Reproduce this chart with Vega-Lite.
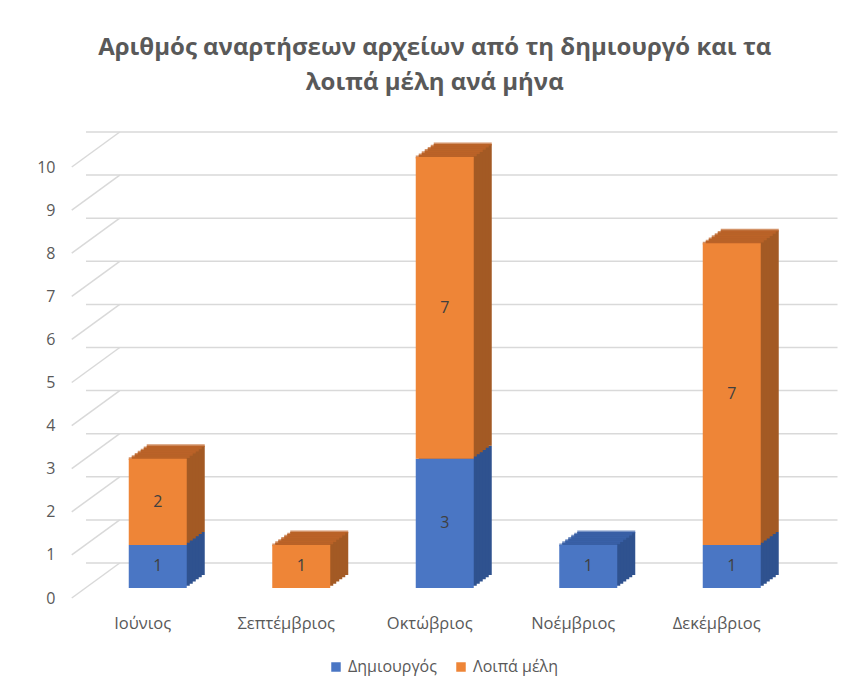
{
  "$schema": "https://vega.github.io/schema/vega-lite/v6.json",
  "width": 717.5,
  "height": 431,
  "autosize": {"type": "none"},
  "padding": {"left": 86, "top": 157, "right": 62, "bottom": 105},
  "background": "white",
  "config": {"view": {"stroke": null}, "font": "Open Sans"},
  "title": {
    "text": ["Αριθμός αναρτήσεων αρχείων από τη δημιουργό και τα", "λοιπά μέλη ανά μήνα"],
    "font": "Open Sans",
    "fontSize": 24,
    "fontWeight": "bold",
    "color": "#595959",
    "lineHeight": 35,
    "anchor": "middle",
    "dx": -10,
    "offset": 36
  },
  "datasets": {
    "posts": [
      {"month": "Ιούνιος", "series": "Δημιουργός", "value": 1},
      {"month": "Ιούνιος", "series": "Λοιπά μέλη", "value": 2},
      {"month": "Σεπτέμβριος", "series": "Δημιουργός", "value": 0},
      {"month": "Σεπτέμβριος", "series": "Λοιπά μέλη", "value": 1},
      {"month": "Οκτώβριος", "series": "Δημιουργός", "value": 3},
      {"month": "Οκτώβριος", "series": "Λοιπά μέλη", "value": 7},
      {"month": "Νοέμβριος", "series": "Δημιουργός", "value": 1},
      {"month": "Νοέμβριος", "series": "Λοιπά μέλη", "value": 0},
      {"month": "Δεκέμβριος", "series": "Δημιουργός", "value": 1},
      {"month": "Δεκέμβριος", "series": "Λοιπά μέλη", "value": 7}
    ],
    "grid": [
      {"v": 0}, {"v": 1}, {"v": 2}, {"v": 3}, {"v": 4}, {"v": 5},
      {"v": 6}, {"v": 7}, {"v": 8}, {"v": 9}, {"v": 10}
    ]
  },
  "layer": [
    {
      "data": {"name": "grid"},
      "mark": {"type": "rule", "color": "#D9D9D9", "strokeWidth": 1.5, "xOffset": 34, "x2Offset": 34, "yOffset": -25},
      "encoding": {
        "y": {"field": "v", "type": "quantitative", "scale": {"domain": [0, 10], "nice": false},
          "axis": {"title": null, "grid": false, "domain": false, "ticks": false, "values": [0,1,2,3,4,5,6,7,8,9,10], "labelPadding": 31, "labelOffset": 10, "labelFontSize": 16, "labelColor": "#595959", "labelFont": "Open Sans"}}
      }
    },
    {
      "data": {"name": "grid"},
      "mark": {"type": "rule", "color": "#D9D9D9", "strokeWidth": 1.5, "xOffset": -86, "x2Offset": -38, "yOffset": 10, "y2Offset": -25},
      "encoding": {
        "x": {"datum": "Ιούνιος", "type": "nominal",
          "axis": {"title": null, "domain": false, "ticks": false, "labelAngle": 0, "labelOffset": -15, "labelPadding": 27, "labelFontSize": 16.5, "labelColor": "#595959", "labelFont": "Open Sans"}},
        "x2": {"datum": "Ιούνιος"},
        "y": {"field": "v", "type": "quantitative"},
        "y2": {"field": "v"}
      }
    },
    {
      "data": {"name": "posts"},
      "transform": [
        {"filter": "datum.value > 0"},
        {"stack": "value", "groupby": ["month"], "sort": [{"field": "series", "order": "ascending"}], "as": ["y0", "y1"]},
        {"joinaggregate": [{"op": "max", "field": "y1", "as": "total"}], "groupby": ["month"]},
        {"calculate": "(datum.y0 + datum.y1) / 2", "as": "mid"}
      ],
      "encoding": {
        "x": {
          "field": "month",
          "type": "nominal",
          "sort": null,
          "scale": {"domain": ["Ιούνιος", "Σεπτέμβριος", "Οκτώβριος", "Νοέμβριος", "Δεκέμβριος"], "paddingInner": 0.596, "paddingOuter": 0.298},
          "axis": {"title": null, "domain": false, "ticks": false, "labelAngle": 0, "labelOffset": -15, "labelPadding": 27, "labelFontSize": 16.5, "labelColor": "#595959", "labelFont": "Open Sans"}
        }
      },
      "layer": [
        {"mark": {"type": "bar", "width": 58, "xOffset": 18, "yOffset": -13, "y2Offset": -13},
         "encoding": {"y": {"field": "y1", "type": "quantitative"}, "y2": {"field": "y0"},
           "color": {"condition": {"test": "datum.series === 'Δημιουργός'", "value": "#2F528F"}, "value": "#A35A24"}}},
        {"mark": {"type": "bar", "width": 58, "xOffset": 15, "yOffset": -10.83, "y2Offset": -10.83},
         "encoding": {"y": {"field": "y1", "type": "quantitative"}, "y2": {"field": "y0"},
           "color": {"condition": {"test": "datum.series === 'Δημιουργός'", "value": "#2F528F"}, "value": "#A35A24"}}},
        {"mark": {"type": "bar", "width": 58, "xOffset": 12, "yOffset": -8.67, "y2Offset": -8.67},
         "encoding": {"y": {"field": "y1", "type": "quantitative"}, "y2": {"field": "y0"},
           "color": {"condition": {"test": "datum.series === 'Δημιουργός'", "value": "#2F528F"}, "value": "#A35A24"}}},
        {"mark": {"type": "bar", "width": 58, "xOffset": 9, "yOffset": -6.5, "y2Offset": -6.5},
         "encoding": {"y": {"field": "y1", "type": "quantitative"}, "y2": {"field": "y0"},
           "color": {"condition": {"test": "datum.series === 'Δημιουργός'", "value": "#2F528F"}, "value": "#A35A24"}}},
        {"mark": {"type": "bar", "width": 58, "xOffset": 6, "yOffset": -4.33, "y2Offset": -4.33},
         "encoding": {"y": {"field": "y1", "type": "quantitative"}, "y2": {"field": "y0"},
           "color": {"condition": {"test": "datum.series === 'Δημιουργός'", "value": "#2F528F"}, "value": "#A35A24"}}},
        {"mark": {"type": "bar", "width": 58, "xOffset": 3, "yOffset": -2.17, "y2Offset": -2.17},
         "encoding": {"y": {"field": "y1", "type": "quantitative"}, "y2": {"field": "y0"},
           "color": {"condition": {"test": "datum.series === 'Δημιουργός'", "value": "#2F528F"}, "value": "#A35A24"}}},
        {"transform": [{"filter": "datum.y1 === datum.total"}],
         "mark": {"type": "tick", "orient": "horizontal", "size": 58, "thickness": 2.8, "xOffset": 18, "yOffset": -13},
         "encoding": {"y": {"field": "total", "type": "quantitative"},
           "color": {"condition": {"test": "datum.series === 'Δημιουργός'", "value": "#3C64AC"}, "value": "#C0652A"}}},
        {"transform": [{"filter": "datum.y1 === datum.total"}],
         "mark": {"type": "tick", "orient": "horizontal", "size": 58, "thickness": 2.8, "xOffset": 15, "yOffset": -10.83},
         "encoding": {"y": {"field": "total", "type": "quantitative"},
           "color": {"condition": {"test": "datum.series === 'Δημιουργός'", "value": "#3C64AC"}, "value": "#C0652A"}}},
        {"transform": [{"filter": "datum.y1 === datum.total"}],
         "mark": {"type": "tick", "orient": "horizontal", "size": 58, "thickness": 2.8, "xOffset": 12, "yOffset": -8.67},
         "encoding": {"y": {"field": "total", "type": "quantitative"},
           "color": {"condition": {"test": "datum.series === 'Δημιουργός'", "value": "#3C64AC"}, "value": "#C0652A"}}},
        {"transform": [{"filter": "datum.y1 === datum.total"}],
         "mark": {"type": "tick", "orient": "horizontal", "size": 58, "thickness": 2.8, "xOffset": 9, "yOffset": -6.5},
         "encoding": {"y": {"field": "total", "type": "quantitative"},
           "color": {"condition": {"test": "datum.series === 'Δημιουργός'", "value": "#3C64AC"}, "value": "#C0652A"}}},
        {"transform": [{"filter": "datum.y1 === datum.total"}],
         "mark": {"type": "tick", "orient": "horizontal", "size": 58, "thickness": 2.8, "xOffset": 6, "yOffset": -4.33},
         "encoding": {"y": {"field": "total", "type": "quantitative"},
           "color": {"condition": {"test": "datum.series === 'Δημιουργός'", "value": "#3C64AC"}, "value": "#C0652A"}}},
        {"transform": [{"filter": "datum.y1 === datum.total"}],
         "mark": {"type": "tick", "orient": "horizontal", "size": 58, "thickness": 2.8, "xOffset": 3, "yOffset": -2.17},
         "encoding": {"y": {"field": "total", "type": "quantitative"},
           "color": {"condition": {"test": "datum.series === 'Δημιουργός'", "value": "#3C64AC"}, "value": "#C0652A"}}},
        {"transform": [{"filter": "datum.y1 === datum.total"}],
         "mark": {"type": "tick", "orient": "horizontal", "size": 58, "thickness": 2.8},
         "encoding": {"y": {"field": "total", "type": "quantitative"},
           "color": {"condition": {"test": "datum.series === 'Δημιουργός'", "value": "#3C64AC"}, "value": "#C0652A"}}},
        {"mark": {"type": "bar", "width": 58},
         "encoding": {
           "y": {"field": "y1", "type": "quantitative",
             "axis": {"title": null, "grid": false, "domain": false, "ticks": false, "values": [0,1,2,3,4,5,6,7,8,9,10], "labelPadding": 31, "labelOffset": 10, "labelFontSize": 16, "labelColor": "#595959", "labelFont": "Open Sans"}},
           "y2": {"field": "y0"},
           "color": {"field": "series", "type": "nominal",
             "scale": {"domain": ["Δημιουργός", "Λοιπά μέλη"], "range": ["#4A76C4", "#EE8537"]},
             "legend": {"title": null, "orient": "none", "legendX": 242, "legendY": 502, "direction": "horizontal", "symbolType": "square", "symbolSize": 90, "symbolStrokeWidth": 0, "labelFontSize": 16, "labelColor": "#595959", "labelFont": "Open Sans", "columnPadding": 16}}
         }},
        {"mark": {"type": "text", "fontSize": 16, "color": "#404040", "font": "Open Sans"},
         "encoding": {"y": {"field": "mid", "type": "quantitative"}, "text": {"field": "value", "type": "quantitative"}}}
      ]
    }
  ]
}
